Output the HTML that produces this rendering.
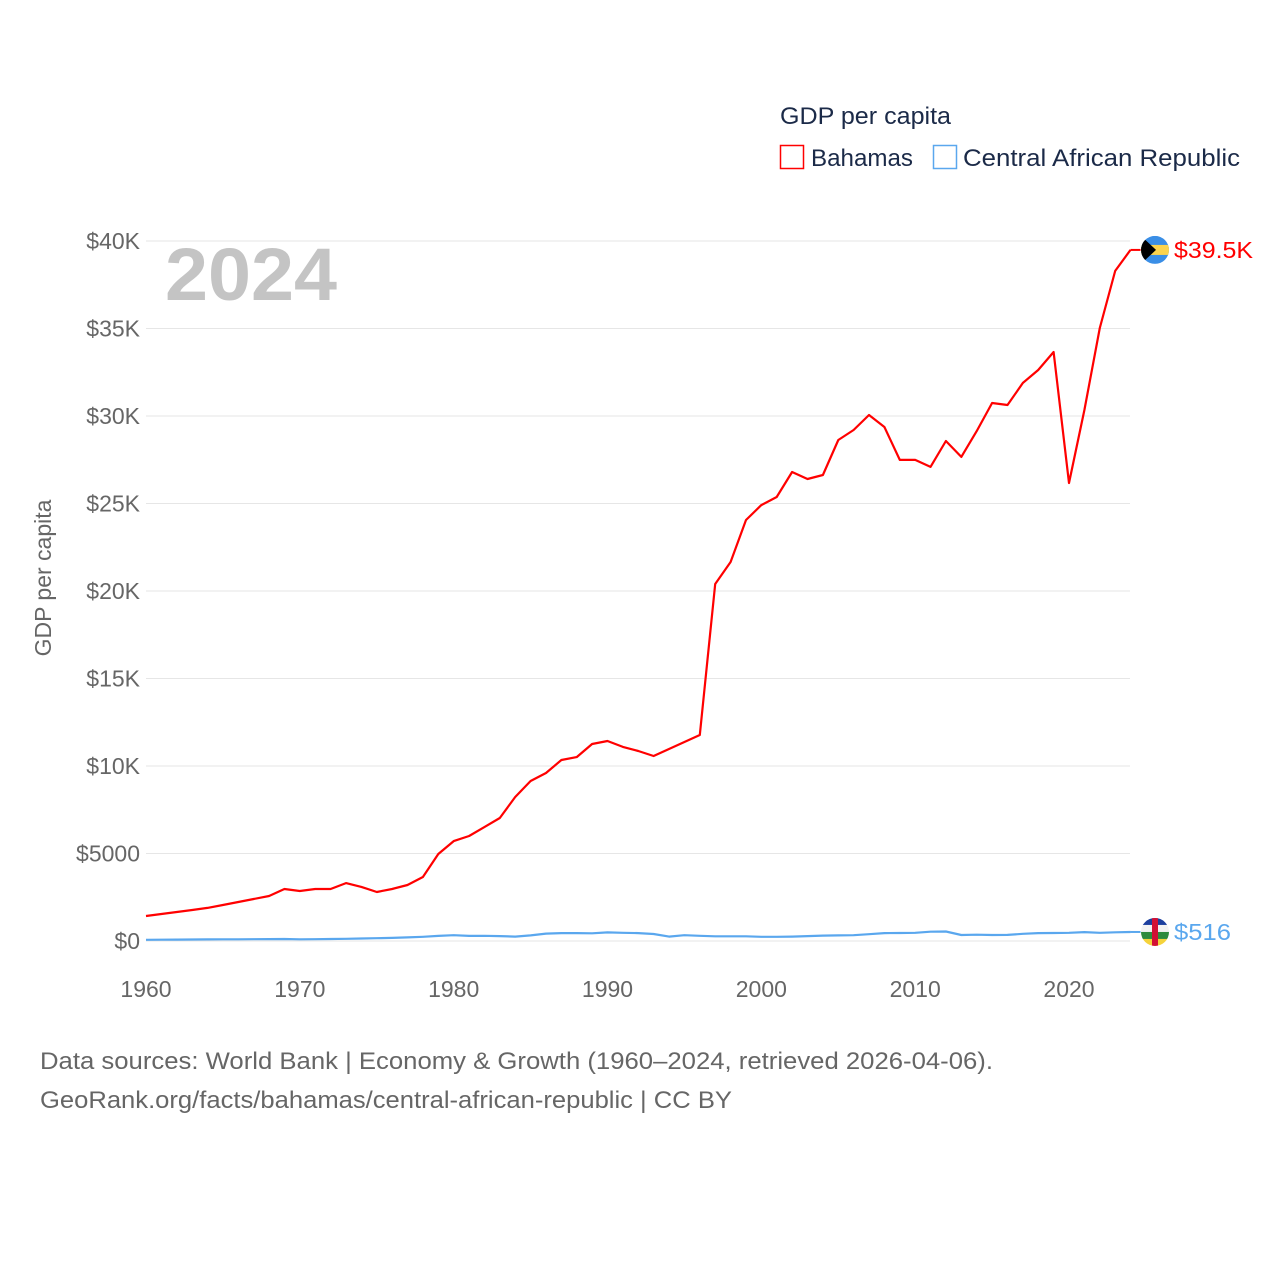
<!DOCTYPE html>
<html><head><meta charset="utf-8">
<style>
body{margin:0;background:#fff;font-family:"Liberation Sans",sans-serif;}
#wrap{position:relative;width:1280px;height:1280px;}
svg text{font-family:"Liberation Sans",sans-serif;}
</style></head>
<body>
<div id="wrap">
<svg id="chart" width="1280" height="1280">
  <text x="780" y="124" font-size="24" fill="#1b2a48" textLength="171" lengthAdjust="spacingAndGlyphs">GDP per capita</text>
  <g>
    <rect x="780.5" y="145.5" width="23" height="23" fill="none" stroke="#ff0000" stroke-width="1.5"/>
    <text x="811" y="166" font-size="24" fill="#1b2a48" textLength="102" lengthAdjust="spacingAndGlyphs">Bahamas</text>
  </g>
  <g>
    <rect x="933.5" y="145.5" width="23" height="23" fill="none" stroke="#5aa7ee" stroke-width="1.5"/>
    <text x="963" y="166" font-size="24" fill="#1b2a48" textLength="277" lengthAdjust="spacingAndGlyphs">Central African Republic</text>
  </g>
  <text x="165" y="300" font-size="74" font-weight="bold" fill="#c4c4c4" textLength="172" lengthAdjust="spacingAndGlyphs">2024</text>
  <text transform="translate(51,578) rotate(-90)" text-anchor="middle" font-size="23" fill="#666">GDP per capita</text>
  <g id="grid"></g>
  <g id="yticks"></g>
  <g id="xticks"></g>
  <g id="lines"></g>
  <g id="ends"></g>
  <text x="40" y="1069" font-size="24" fill="#666" textLength="953" lengthAdjust="spacingAndGlyphs">Data sources: World Bank | Economy &amp; Growth (1960–2024, retrieved 2026-04-06).</text>
  <text x="40" y="1108" font-size="24" fill="#666" textLength="692" lengthAdjust="spacingAndGlyphs">GeoRank.org/facts/bahamas/central-african-republic | CC BY</text>
</svg>
</div>
<script>
const years = [];
for (let y = 1960; y <= 2024; y++) years.push(y);
const bahamas = [1430,1540,1660,1770,1890,2060,2230,2400,2570,2970,
2860,2970,2970,3310,3090,2800,2970,3200,3660,4970,
5710,6000,6510,7030,8230,9140,9600,10340,10510,11260,
11430,11090,10860,10570,10970,11370,11770,20400,21660,24060,
24910,25370,26800,26400,26630,28630,29200,30060,29370,27490,
27490,27090,28570,27660,29140,30740,30630,31890,32630,33660,
26170,30340,35030,38290,39490];
const car = [70,75,80,85,90,95,100,105,110,115,
100,105,115,125,140,160,180,205,240,290,
330,290,300,280,250,320,420,450,450,440,
490,470,450,400,250,330,300,270,270,270,
240,240,250,280,310,320,330,390,450,460,
470,530,540,340,360,340,350,410,450,460,
470,510,470,500,516];
const yTickVals = [0,5000,10000,15000,20000,25000,30000,35000,40000];
const yTickLabels = ["$0","$5000","$10K","$15K","$20K","$25K","$30K","$35K","$40K"];
const xTickVals = [1960,1970,1980,1990,2000,2010,2020];

const NS = "http://www.w3.org/2000/svg";
const X = yr => 146 + (yr - 1960) * (1069 - 146) / 60;
const Y = v => 941 - v * 700 / 40000;
function mk(tag, attrs, parent, txt){
  const e = document.createElementNS(NS, tag);
  for (const k in attrs) e.setAttribute(k, attrs[k]);
  if (txt !== undefined) e.textContent = txt;
  parent.appendChild(e); return e;
}
const grid = document.getElementById('grid'), yt = document.getElementById('yticks'),
      xt = document.getElementById('xticks'), lines = document.getElementById('lines'),
      ends = document.getElementById('ends');
yTickVals.forEach((v,i)=>{
  const l = mk('line',{x1:146,x2:1130,y1:Y(v),y2:Y(v),stroke:'#e6e6e6','stroke-width':1},grid);
  
  
  const t = mk('text',{x:140,y:Y(v)+8,'text-anchor':'end','font-size':23,fill:'#666'},yt,yTickLabels[i]);
  
  
});
xTickVals.forEach(v=>{
  const t = mk('text',{x:X(v),y:997,'text-anchor':'middle','font-size':23,fill:'#666'},xt,String(v));
  
  
});
function path(vals,color,name){
  const d = vals.map((v,i)=>(i?'L':'M')+X(years[i]).toFixed(1)+' '+Y(v).toFixed(1)).join(' ');
  const p = mk('path',{d:d,fill:'none',stroke:color,'stroke-width':2.2,'stroke-linejoin':'round'},lines);
  
  
}
path(car,'#5aa7ee','line-car');
path(bahamas,'#ff0000','line-bahamas');
const bLast = bahamas[bahamas.length-1], cLast = car[car.length-1];
const xe = X(2024);
const bl = mk('line',{x1:xe,x2:xe+10,y1:Y(bLast),y2:Y(bLast),stroke:'#ff0000','stroke-width':2},ends);


const cl = mk('line',{x1:xe,x2:xe+10,y1:Y(cLast),y2:Y(cLast),stroke:'#5aa7ee','stroke-width':2},ends);


const by = Y(bLast), fx = 1155;
const fb = mk('g',{},ends);


mk('clipPath',{id:'cb'},fb); mk('circle',{cx:fx,cy:by,r:14},fb.lastChild);
const gb = mk('g',{'clip-path':'url(#cb)'},fb);
mk('rect',{x:fx-14,y:by-14,width:28,height:28,fill:'#3a8ee6'},gb);
mk('rect',{x:fx-14,y:by-5,width:28,height:10,fill:'#fcd34d'},gb);
mk('polygon',{points:`${fx-14},${by-14} ${fx+1},${by} ${fx-14},${by+14}`,fill:'#000'},gb);
const tb = mk('text',{x:1174,y:by+8,'font-size':23,fill:'#ff0000',textLength:79,lengthAdjust:'spacingAndGlyphs'},ends,'$39.5K');


const cy = Y(cLast);
const fc = mk('g',{},ends);


mk('clipPath',{id:'cc'},fc); mk('circle',{cx:fx,cy:cy,r:14},fc.lastChild);
const gc = mk('g',{'clip-path':'url(#cc)'},fc);
const cols=['#1c3f9e','#f2f2f2','#2e8b3e','#f5d33b'];
cols.forEach((c,i)=>mk('rect',{x:fx-14,y:cy-14+i*7,width:28,height:7,fill:c},gc));
mk('rect',{x:fx-3,y:cy-14,width:6,height:28,fill:'#d21034'},gc);
const tc = mk('text',{x:1174,y:cy+8,'font-size':23,fill:'#5aa7ee',textLength:57,lengthAdjust:'spacingAndGlyphs'},ends,'$516');


</script>
</body></html>
